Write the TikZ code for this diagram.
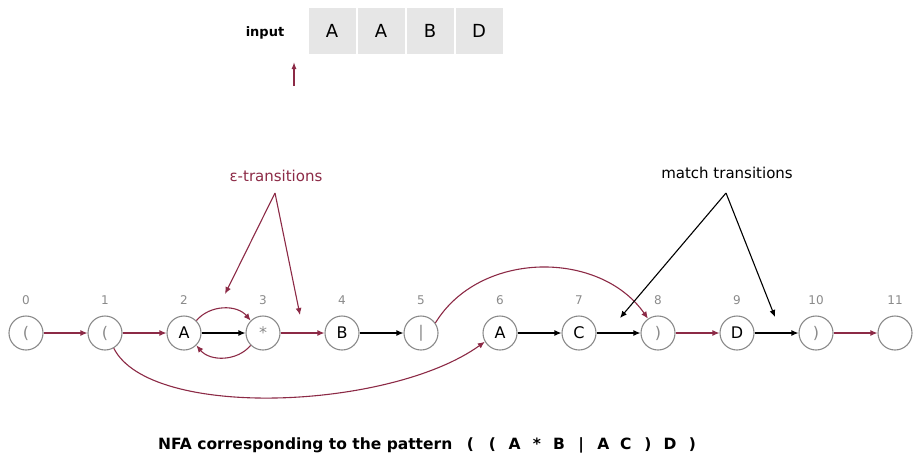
\documentclass[tikz,border=0pt]{standalone}
\usepackage{fontspec}
\setmainfont{DejaVu Sans}
\usetikzlibrary{arrows.meta}
\definecolor{eps}{HTML}{8C2A46}
\definecolor{ring}{HTML}{8A8A8A}
\definecolor{cellbg}{HTML}{E6E6E6}
\newcommand{\patc}[1]{\makebox[22.2pt]{#1}}
\tikzset{
  st/.style={circle,draw=ring,line width=1.1pt,minimum size=34pt,inner sep=0pt,font=\fontsize{16}{16}\selectfont},
  gr/.style={text=ring},
  idx/.style={text=ring,font=\fontsize{12}{12}\selectfont},
  red/.style={draw=eps,line width=1.1pt,-{Latex[length=7pt,width=6pt]}},
  blk/.style={draw=black,line width=1.1pt,-{Latex[length=7pt,width=6pt]}},
  cell/.style={fill=cellbg,minimum width=47pt,minimum height=46pt,inner sep=0pt,font=\fontsize{18}{18}\selectfont},
  note/.style={font=\fontsize{15}{15}\selectfont},
  capt/.style={font=\bfseries\fontsize{15.5}{15.5}\selectfont,anchor=base west,inner sep=0pt}
}
\begin{document}
\begin{tikzpicture}[x=1pt,y=-1pt]
\useasboundingbox (0,0) rectangle (915,453);
% input tape
\node[font=\bfseries\fontsize{13}{13}\selectfont] (inp) at (265,33) {input};
\node[cell] (c1) at (332,31) {A};
\node[cell] (c2) at (381,31) {A};
\node[cell] (c3) at (430,31) {B};
\node[cell] (c4) at (479,31) {D};
\coordinate (pt) at (294,86);
\coordinate (ph) at (294,62);
\draw[eps,line width=1.3pt,-{Latex[length=7pt,width=5pt]}] (pt) -- (ph);
% states
\foreach \i/\t/\s in {0/(/gr,1/(/gr,2/A/,3/*/gr,4/B/,5/|/gr,6/A/,7/C/,8/)/gr,9/D/,10/)/gr,11//}{
  \node[st,\s] (n\i) at (26+79*\i,333) {\t};
  \node[idx] (l\i) at (26+79*\i,300) {\i};
}
% straight transitions
\draw[red] (n0) -- (n1);
\draw[red] (n1) -- (n2);
\draw[blk] (n2) -- (n3);
\draw[red] (n3) -- (n4);
\draw[blk] (n4) -- (n5);
\draw[blk] (n6) -- (n7);
\draw[blk] (n7) -- (n8);
\draw[red] (n8) -- (n9);
\draw[blk] (n9) -- (n10);
\draw[red] (n10) -- (n11);
% epsilon curves
\draw[red] (n2.45) to[out=50,in=130] (n3.135);
\draw[red] (n3.-135) to[out=-130,in=-50] (n2.-45);
\draw[red] (n1.-60) .. controls (150,420) and (390,410) .. (n6.-150);
\draw[red] (n5.35) .. controls (480,250) and (600,250) .. (n8.125);
% annotations
\node[note,text=eps] (et) at (276,176) {ε-transitions};
\coordinate (ea) at (275,193);
\coordinate (e1) at (225,294);
\coordinate (e2) at (300,315);
\draw[red] (ea) -- (e1);
\draw[red] (ea) -- (e2);
\node[note] (mt) at (727,173) {match transitions};
\coordinate (ma) at (726,193);
\coordinate (m1) at (620,318);
\coordinate (m2) at (775,317);
\draw[blk] (ma) -- (m1);
\draw[blk] (ma) -- (m2);
% caption
\node[capt] (cap) at (158,449) {NFA corresponding to the pattern};
\node[capt] (pat) at (459,449) {\patc{(}\patc{(}\patc{A}\patc{*}\patc{B}\patc{|}\patc{A}\patc{C}\patc{)}\patc{D}\patc{)}};
\end{tikzpicture}
\end{document}
